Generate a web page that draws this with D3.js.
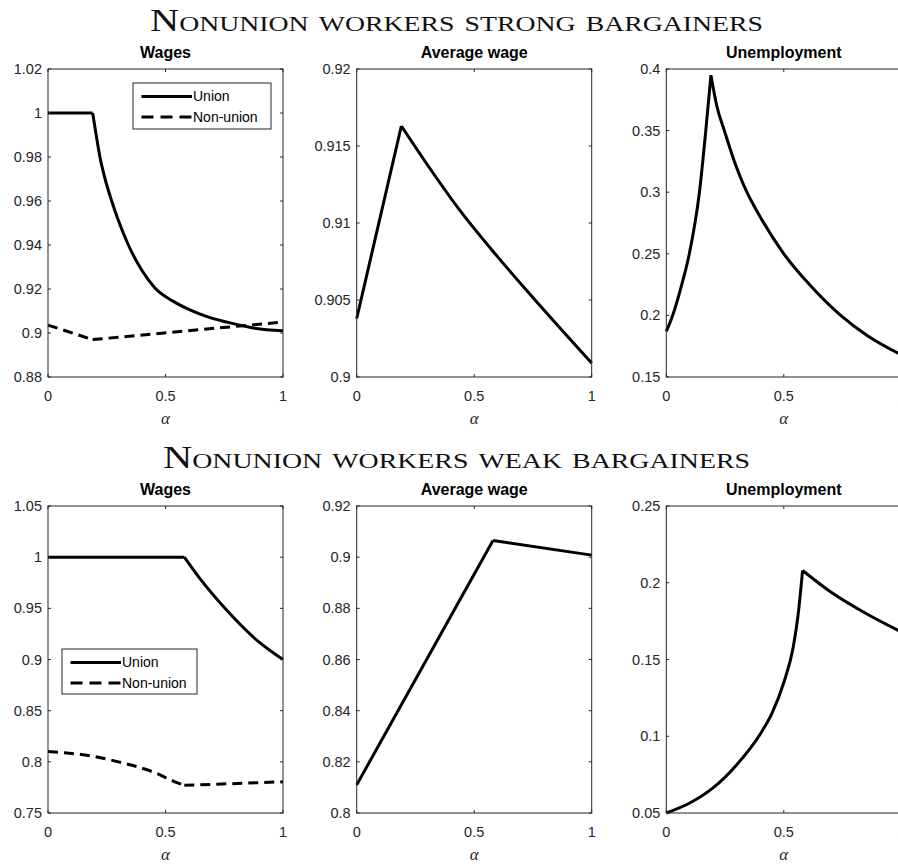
<!DOCTYPE html>
<html><head><meta charset="utf-8">
<script src="https://cdn.jsdelivr.net/npm/d3@7"></script>
<style>body{margin:0;background:#fff;overflow:hidden}</style>
</head><body><svg id="c" width="898" height="866"></svg>
<script>
// ---------------- data ----------------
const rowTitles = ["Nonunion workers strong bargainers", "Nonunion workers weak bargainers"];
const panelTitles = ["Wages", "Average wage", "Unemployment"];
const seriesNames = ["Union", "Non-union"];
const alphaTicks = [0, 0.5, 1];

// Strong bargainers
const sUnionAlpha = [0, 0.19, 0.205, 0.221, 0.243, 0.271, 0.3, 0.342, 0.4, 0.455, 0.53, 0.604, 0.68, 0.76, 0.88, 1];
const sUnionWage  = [1, 1, 0.99, 0.98, 0.97, 0.96, 0.951, 0.94, 0.9284, 0.9205, 0.9146, 0.9105, 0.9073, 0.905, 0.9022, 0.901];
const sNonAlpha   = [0, 0.19, 1];
const sNonWage    = [0.9036, 0.897, 0.905];
const sAvgAlpha   = [0, 0.19, 0.3, 0.44, 0.6, 0.759, 1];
const sAvgWage    = [0.9038, 0.9163, 0.9138, 0.9108, 0.9078, 0.905, 0.9009];
const sUnempAlpha = [0, 0.027, 0.06, 0.098, 0.141, 0.168, 0.19, 0.215, 0.247, 0.286, 0.343, 0.386, 0.5, 0.614, 0.742, 0.856, 1];
const sUnempRate  = [0.187, 0.2, 0.221, 0.25, 0.3, 0.35, 0.395, 0.37, 0.35, 0.327, 0.3, 0.2845, 0.25, 0.224, 0.2, 0.1835, 0.168];
const sKink = 0.19;

// Weak bargainers
const wUnionAlpha = [0, 0.58, 0.65, 0.753, 0.888, 1];
const wUnionWage  = [1, 1, 0.978, 0.95, 0.919, 0.9];
const wNonAlpha   = [0, 0.187, 0.3, 0.462, 0.533, 0.58, 1];
const wNonWage    = [0.81, 0.8056, 0.8, 0.7887, 0.7812, 0.777, 0.7805];
const wAvgAlpha   = [0, 0.58, 1];
const wAvgWage    = [0.811, 0.9065, 0.9008];
const wUnempAlpha = [0, 0.1, 0.2, 0.3, 0.4, 0.45, 0.5, 0.54, 0.56, 0.58, 0.7, 0.85, 1];
const wUnempRate  = [0.05, 0.0565, 0.0665, 0.0815, 0.1015, 0.115, 0.135, 0.158, 0.178, 0.208, 0.194, 0.18, 0.168];
const wKink = 0.58;

// Y tick values
const sWageTicks  = [0.88, 0.9, 0.92, 0.94, 0.96, 0.98, 1, 1.02];
const sAvgTicks   = [0.9, 0.905, 0.91, 0.915, 0.92];
const sUnempTicks = [0.15, 0.2, 0.25, 0.3, 0.35, 0.4];
const wWageTicks  = [0.75, 0.8, 0.85, 0.9, 0.95, 1, 1.05];
const wAvgTicks   = [0.8, 0.82, 0.84, 0.86, 0.88, 0.9, 0.92];
const wUnempTicks = [0.05, 0.1, 0.15, 0.2, 0.25];

// ---------------- layout ----------------
const svg = d3.select("#c");
const colX = [48, 356.7, 666.3];
const plotW = 235;
const rows = [
  {top: 69, bottom: 377, titleY: 31, titleW: 613, kink: sKink, panels: [
    {ticks: sWageTicks, series: [[sUnionAlpha, sUnionWage, false], [sNonAlpha, sNonWage, true]], legend: {x: 133, y: 83, w: 138, h: 46}},
    {ticks: sAvgTicks, series: [[sAvgAlpha, sAvgWage, false]]},
    {ticks: sUnempTicks, series: [[sUnempAlpha, sUnempRate, false]]}
  ]},
  {top: 506, bottom: 813, titleY: 468, titleW: 587, kink: wKink, panels: [
    {ticks: wWageTicks, series: [[wUnionAlpha, wUnionWage, false], [wNonAlpha, wNonWage, true]], legend: {x: 62, y: 649, w: 135, h: 45}},
    {ticks: wAvgTicks, series: [[wAvgAlpha, wAvgWage, false]]},
    {ticks: wUnempTicks, series: [[wUnempAlpha, wUnempRate, false]]}
  ]}
];
const axisColor = "#262626";
const fmt = d => String(+d.toFixed(4));

rows.forEach((row, ri) => {
  svg.append("text")
    .attr("x", 456.5).attr("y", row.titleY)
    .attr("text-anchor", "middle")
    .attr("font-family", "'Liberation Serif', 'DejaVu Serif', serif")
    .attr("font-size", 32)
    .attr("textLength", row.titleW)
    .attr("lengthAdjust", "spacingAndGlyphs")
    .style("font-variant", "small-caps")
    .attr("fill", "#111")
    .text(rowTitles[ri]);

  row.panels.forEach((p, ci) => {
    const x0 = colX[ci];
    const x = d3.scaleLinear().domain([0, 1]).range([x0, x0 + plotW]);
    const y = d3.scaleLinear().domain(d3.extent(p.ticks)).range([row.bottom, row.top]);
    const g = svg.append("g");

    // curves (split at the kink so the corner stays sharp)
    p.series.forEach(([as, vs, dashed]) => {
      const pts = as.map((a, i) => [a, vs[i]]);
      const segs = [pts.filter(d => d[0] <= row.kink + 1e-9), pts.filter(d => d[0] >= row.kink - 1e-9)];
      const line = d3.line().x(d => x(d[0])).y(d => y(d[1])).curve(d3.curveMonotoneX);
      const d = segs.filter(s => s.length >= 2).map(s => line(s)).join("");
      g.append("path").attr("d", d)
        .attr("fill", "none").attr("stroke", "#000").attr("stroke-width", 3)
        .attr("stroke-linejoin", "miter")
        .attr("stroke-dasharray", dashed ? "10,6" : null);
    });

    // axes (MATLAB-style box, ticks inside)
    const tl = 3;
    const ax = g.append("g").attr("stroke", axisColor).attr("stroke-width", 1).attr("fill", "none");
    ax.append("rect").attr("x", x(0)).attr("y", row.top).attr("width", plotW).attr("height", row.bottom - row.top);
    p.ticks.forEach(t => {
      ax.append("line").attr("x1", x(0)).attr("x2", x(0) + tl).attr("y1", y(t)).attr("y2", y(t));
      ax.append("line").attr("x1", x(1)).attr("x2", x(1) - tl).attr("y1", y(t)).attr("y2", y(t));
    });
    alphaTicks.forEach(t => {
      ax.append("line").attr("x1", x(t)).attr("x2", x(t)).attr("y1", row.bottom).attr("y2", row.bottom - tl);
      ax.append("line").attr("x1", x(t)).attr("x2", x(t)).attr("y1", row.top).attr("y2", row.top + tl);
    });

    const lab = g.append("g").attr("font-family", "'Liberation Sans', Arial, sans-serif").attr("font-size", 14.5).attr("fill", axisColor);
    p.ticks.forEach(t => {
      lab.append("text").attr("x", x(0) - 6).attr("y", y(t)).attr("dy", "0.35em")
        .attr("text-anchor", "end").text(fmt(t));
    });
    alphaTicks.forEach(t => {
      lab.append("text").attr("x", x(t)).attr("y", row.bottom + 24)
        .attr("text-anchor", "middle").text(fmt(t));
    });

    // panel title
    g.append("text").attr("x", x(0.5)).attr("y", row.top - 11)
      .attr("text-anchor", "middle").attr("font-family", "'Liberation Sans', Arial, sans-serif")
      .attr("font-weight", "bold").attr("font-size", 16).attr("fill", "#000")
      .text(panelTitles[ci]);

    // x label
    g.append("text").attr("x", x(0.5)).attr("y", row.bottom + 47)
      .attr("text-anchor", "middle").attr("font-family", "'Liberation Serif', serif")
      .attr("font-style", "italic").attr("font-size", 17).attr("fill", axisColor)
      .text("α");

    // legend
    if (p.legend) {
      const L = p.legend;
      const lg = g.append("g");
      lg.append("rect").attr("x", L.x).attr("y", L.y).attr("width", L.w).attr("height", L.h)
        .attr("fill", "#fff").attr("stroke", axisColor).attr("stroke-width", 1);
      seriesNames.forEach((nm, i) => {
        const yy = L.y + 13.5 + i * 20.5;
        lg.append("line").attr("x1", L.x + 8.5).attr("x2", L.x + 59).attr("y1", yy).attr("y2", yy)
          .attr("stroke", "#000").attr("stroke-width", 3)
          .attr("stroke-dasharray", i === 1 ? "12,7" : null);
        lg.append("text").attr("x", L.x + 60).attr("y", yy).attr("dy", "0.35em")
          .attr("font-family", "'Liberation Sans', Arial, sans-serif").attr("font-size", 14)
          .attr("fill", "#000").text(nm);
      });
    }
  });
});
</script></body></html>
